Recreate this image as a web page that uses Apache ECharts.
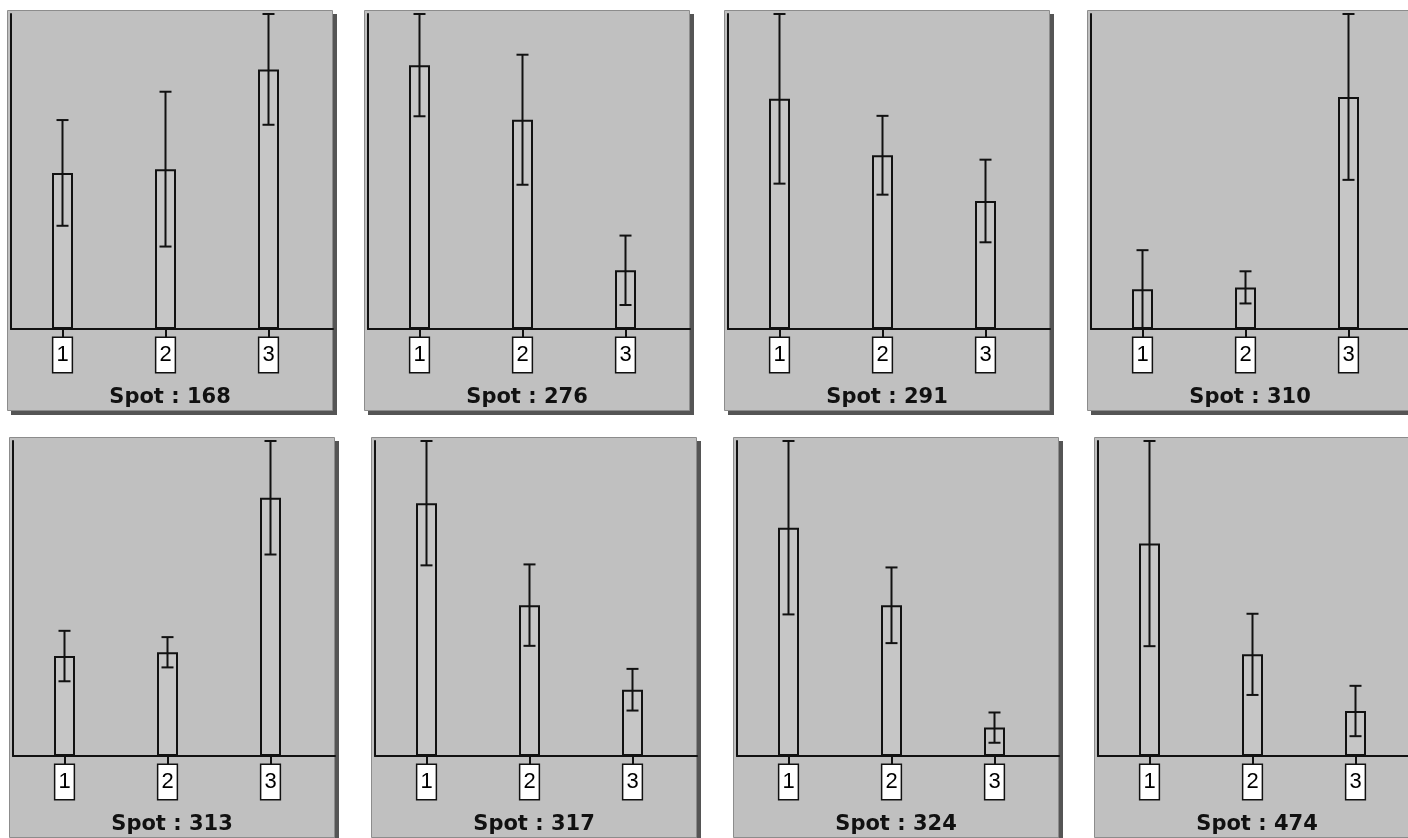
<!DOCTYPE html>
<html>
<head>
<meta charset="utf-8">
<style>
  html, body { margin: 0; padding: 0; background: #fff; }
  #chart { width: 1408px; height: 838px; }
</style>
<script src="https://cdn.jsdelivr.net/npm/echarts@6/dist/echarts.min.js"></script>
</head>
<body>
<div id="chart"></div>
<script>
// spot ids, one small bar chart per spot
var spots = ['168', '276', '291', '310', '313', '317', '324', '474'];
var groups = [1, 2, 3];
// mean (normalised volume) of each group, one row per spot
var meanValues = [
  [49.6, 50.8, 82.5],
  [83.6, 66.3, 18.6],
  [73.0, 55.1, 40.6],
  [12.6, 13.2, 73.6],
  [31.7, 32.9, 81.9],
  [80.1, 47.8, 21.0],
  [72.4, 47.8, 9.0],
  [67.5, 32.3, 14.3]
];
// error (+/-) of each group
var errValues = [
  [16.8, 24.6, 17.6],
  [16.2, 20.6, 11.0],
  [26.9, 12.5, 13.1],
  [12.4, 5.1, 26.3],
  [8.0, 4.8, 18.0],
  [19.7, 12.9, 6.6],
  [27.5, 12.0, 4.8],
  [32.6, 12.9, 8.0]
];

// panel frames (left / top corner of each box)
var panelLeft = [7, 364, 724, 1087, 9, 371, 733, 1094];
var panelTop = [10, 10, 10, 10, 437, 437, 437, 437];
var PW = 326, PH = 401;
var lineCol = '#111';

var grids = [], xAxes = [], yAxes = [], series = [], titles = [], frames = [];

spots.forEach(function (spot, i) {
  var left = panelLeft[i], top = panelTop[i];
  // shadow + panel
  frames.push({
    type: 'rect', z: -2,
    shape: { x: left + 4, y: top + 4, width: PW, height: PH },
    style: { fill: '#555555' }
  });
  frames.push({
    type: 'rect', z: -1,
    shape: { x: left + 0.5, y: top + 0.5, width: PW - 1, height: PH - 1 },
    style: { fill: '#c0c0c0', stroke: '#8c8c8c', lineWidth: 1 }
  });

  grids.push({ left: left + 4, top: top + 4, width: 322, height: 315, outerBoundsMode: 'none' });

  var yMax = 0;
  meanValues[i].forEach(function (m, k) { yMax = Math.max(yMax, m + errValues[i][k]); });

  xAxes.push({
    gridIndex: i,
    type: 'value',
    min: 0.5,
    max: 0.5 + 322 / 103,
    splitLine: { show: false },
    axisLine: { show: true, onZero: false, lineStyle: { color: lineCol, width: 2 } },
    axisTick: { show: true, customValues: groups, length: 9, lineStyle: { color: lineCol, width: 2 } },
    axisLabel: {
      customValues: groups,
      margin: 9,
      formatter: function (v) { return String(v); },
      fontFamily: 'Liberation Sans',
      fontSize: 22,
      color: '#000',
      backgroundColor: '#fff',
      borderColor: lineCol,
      borderWidth: 1.5,
      lineHeight: 30,
      padding: [2, 3, 2, 3]
    }
  });
  yAxes.push({
    gridIndex: i,
    type: 'value',
    min: 0,
    max: yMax,
    splitLine: { show: false },
    axisLine: { show: true, lineStyle: { color: lineCol, width: 2 } },
    axisTick: { show: false },
    axisLabel: { show: false }
  });

  series.push({
    type: 'bar',
    xAxisIndex: i,
    yAxisIndex: i,
    barWidth: 21,
    itemStyle: { color: '#c6c6c6', borderColor: lineCol, borderWidth: 2 },
    data: groups.map(function (g, k) { return [g, meanValues[i][k]]; })
  });

  series.push({
    type: 'custom',
    xAxisIndex: i,
    yAxisIndex: i,
    z: 3,
    encode: { x: 0, y: [1, 2] },
    data: groups.map(function (g, k) {
      var m = meanValues[i][k], e = errValues[i][k];
      return [g, Math.max(m - e, 0), m + e];
    }),
    renderItem: function (params, api) {
      var hi = api.coord([api.value(0), api.value(2)]);
      var lo = api.coord([api.value(0), api.value(1)]);
      var cap = 6;
      var st = { stroke: lineCol, lineWidth: 2 };
      return {
        type: 'group',
        children: [
          { type: 'line', shape: { x1: hi[0], y1: hi[1], x2: lo[0], y2: lo[1] }, style: st },
          { type: 'line', shape: { x1: hi[0] - cap, y1: hi[1], x2: hi[0] + cap, y2: hi[1] }, style: st },
          { type: 'line', shape: { x1: lo[0] - cap, y1: lo[1], x2: lo[0] + cap, y2: lo[1] }, style: st }
        ]
      };
    }
  });

  titles.push({
    text: 'Spot : ' + spot,
    left: left + PW / 2,
    top: top + 388,
    textAlign: 'center',
    textVerticalAlign: 'middle',
    padding: 0,
    textStyle: { fontFamily: 'DejaVu Sans', fontWeight: 'bold', fontSize: 21, color: '#111' }
  });
});

var chart = echarts.init(document.getElementById('chart'));
chart.setOption({
  animation: false,
  backgroundColor: '#fff',
  title: titles,
  graphic: { elements: frames },
  grid: grids,
  xAxis: xAxes,
  yAxis: yAxes,
  series: series
});
</script>
</body>
</html>
